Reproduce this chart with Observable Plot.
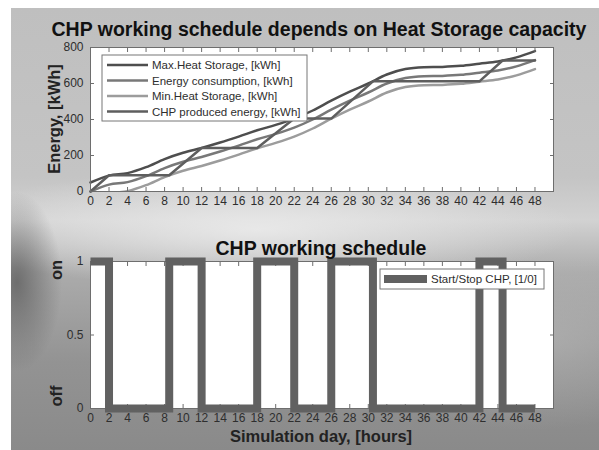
<!DOCTYPE html>
<html>
<head>
<meta charset="utf-8">
<script src="https://cdn.jsdelivr.net/npm/d3@7"></script>
<script src="https://cdn.jsdelivr.net/npm/@observablehq/plot@0.6"></script>
<style>
html, body { margin: 0; padding: 0; background: #ffffff; }
#root { position: relative; width: 599px; height: 450px; overflow: hidden; font-family: "Liberation Sans", Arial, sans-serif; }
#bg { position: absolute; left: 11px; top: 8px; width: 588px; height: 442px;
  background:
    radial-gradient(ellipse 45px 90px at 1% 62%, rgba(90,90,90,0.75), rgba(90,90,90,0) 100%),
    radial-gradient(ellipse 320px 60px at 42% 50%, rgba(235,235,235,0.9), rgba(235,235,235,0) 100%),
    radial-gradient(ellipse 200px 90px at 88% 75%, rgba(185,185,185,0.6), rgba(185,185,185,0) 100%),
    linear-gradient(to bottom, #bfbfbf 0%, #c4c4c4 38%, #d2d2d2 48%, #ababab 60%, #939393 80%, #8a8a8a 100%);
}
.chart { position: absolute; left: 0; }
#overlay { position: absolute; left: 0; top: 0; pointer-events: none; }
</style>
</head>
<body>
<div id="root">
  <div id="bg"></div>
  <div id="top" class="chart" style="top:0px"></div>
  <div id="bottom" class="chart" style="top:230px"></div>
</div>
<script>
// ---- data ----
const hours = [0,2,4,6,8,10,12,14,16,18,20,22,24,26,28,30,32,34,36,38,40,42,44,46,48];
const consumption = [0,38,52,85,130,165,192,222,255,290,320,355,400,455,505,550,600,630,640,642,648,660,672,695,730];
const maxStorage  = [50,88,102,135,180,215,242,272,305,340,370,405,450,505,555,600,650,680,690,692,698,710,722,745,780];
const minStorage  = [-50,-12,2,35,80,115,142,172,205,240,270,305,350,405,455,500,550,580,590,592,598,610,622,645,680];
const chpHours  = [0,2,8.5,12,18,22,26,30.5,42,44.5,48];
const chpEnergy = [0,90,90,242,242,405,405,612,612,728,728];
const chpState  = [1,0,1,0,1,0,1,0,1,0,0];
const xTicks = [0,2,4,6,8,10,12,14,16,18,20,22,24,26,28,30,32,34,36,38,40,42,44,46,48];
const yTicksTop = [0,200,400,600,800];
const yTicksBottom = [0,0.5,1];
const seriesNames = ["Max.Heat Storage, [kWh]", "Energy consumption, [kWh]", "Min.Heat Storage, [kWh]", "CHP produced energy, [kWh]"];
const seriesColors = ["#4e4e4e", "#787878", "#9c9c9c", "#5e5e5e"];
const scheduleName = "Start/Stop CHP, [1/0]";
const scheduleColor = "#616161";

const energyRows = hours.map((h, i) => ({h, max: maxStorage[i], cons: consumption[i], min: minStorage[i]}));
const chpRows = chpHours.map((h, i) => ({h, e: chpEnergy[i], s: chpState[i]}));

const font = "Liberation Sans, Arial, sans-serif";
const axisColor = "#6e6e6e";
const textColor = "#2e2e2e";

function axes(yTicks, yFmt) {
  return [
    Plot.axisX({anchor: "bottom", ticks: xTicks, tickSize: 0, tickPadding: 5, tickFormat: d => String(d), label: null, color: textColor}),
    Plot.axisX({anchor: "bottom", ticks: xTicks, tickSize: -4, tickFormat: () => "", label: null, stroke: axisColor}),
    Plot.axisX({anchor: "top", ticks: xTicks, tickSize: -4, tickFormat: () => "", label: null, stroke: axisColor}),
    Plot.axisY({anchor: "left", ticks: yTicks, tickSize: 0, tickPadding: 7, tickFormat: yFmt, label: null, color: textColor}),
    Plot.axisY({anchor: "left", ticks: yTicks, tickSize: -4, tickFormat: () => "", label: null, stroke: axisColor}),
    Plot.axisY({anchor: "right", ticks: yTicks, tickSize: -4, tickFormat: () => "", label: null, stroke: axisColor})
  ];
}

const topChart = Plot.plot({
  width: 599, height: 230,
  marginLeft: 90, marginRight: 46, marginTop: 47, marginBottom: 39,
  style: {background: "none", fontFamily: font, fontSize: "12px", overflow: "visible"},
  x: {domain: [0, 50], label: null},
  y: {domain: [0, 800], label: null},
  marks: [
    Plot.frame({fill: "white", stroke: null}),
    Plot.line(energyRows, {x: "h", y: "min", stroke: seriesColors[2], strokeWidth: 2.5, curve: "monotone-x", clip: true}),
    Plot.line(energyRows, {x: "h", y: "cons", stroke: seriesColors[1], strokeWidth: 2.5, curve: "monotone-x"}),
    Plot.line(energyRows, {x: "h", y: "max", stroke: seriesColors[0], strokeWidth: 2.5, curve: "monotone-x"}),
    Plot.line(chpRows, {x: "h", y: "e", stroke: seriesColors[3], strokeWidth: 2.5}),
    Plot.frame({stroke: axisColor}),
    ...axes(yTicksTop, d => String(d))
  ]
});
document.getElementById("top").appendChild(topChart);

const bottomChart = Plot.plot({
  width: 599, height: 220,
  marginLeft: 90, marginRight: 46, marginTop: 31, marginBottom: 42,
  style: {background: "none", fontFamily: font, fontSize: "12px", overflow: "visible"},
  x: {domain: [0, 50], label: null},
  y: {domain: [0, 1], label: null},
  marks: [
    Plot.frame({fill: "white", stroke: null}),
    Plot.frame({stroke: axisColor}),
    ...axes(yTicksBottom, d => String(d)),
    Plot.line(chpRows, {x: "h", y: "s", curve: "step-after", stroke: scheduleColor, strokeWidth: 8,
      strokeLinejoin: "miter", strokeMiterlimit: 10, strokeLinecap: "butt"})
  ]
});
document.getElementById("bottom").appendChild(bottomChart);

// ---- overlay: titles, axis labels, legends ----
const svg = d3.select("#root").append("svg").attr("id", "overlay")
  .attr("width", 599).attr("height", 450)
  .style("font-family", font);

function title(x, y, txt, size) {
  svg.append("text").attr("x", x).attr("y", y).attr("text-anchor", "middle")
    .attr("font-weight", "bold").attr("font-size", size).attr("fill", "#111").text(txt);
}
title(319, 35.5, "CHP working schedule depends on Heat Storage capacity", "19.5px");
title(321, 255, "CHP working schedule", "19.5px");
svg.append("text").attr("x", 321).attr("y", 442).attr("text-anchor", "middle")
  .attr("font-weight", "bold").attr("font-size", "16.5px").attr("fill", "#222").text("Simulation day, [hours]");

function vlabel(x, y, txt) {
  svg.append("text").attr("transform", `translate(${x},${y}) rotate(-90)`).attr("text-anchor", "middle")
    .attr("font-weight", "bold").attr("font-size", "16.5px").attr("fill", "#222").text(txt);
}
vlabel(60, 119, "Energy, [kWh]");
vlabel(62, 270, "on");
vlabel(62, 396, "off");

// top legend
const lg = svg.append("g");
lg.append("rect").attr("x", 102).attr("y", 55).attr("width", 205).attr("height", 66)
  .attr("fill", "white").attr("stroke", "#777").attr("stroke-width", 1);
seriesNames.forEach((name, i) => {
  const y = 65 + i * 15.5;
  lg.append("line").attr("x1", 107).attr("x2", 148).attr("y1", y).attr("y2", y)
    .attr("stroke", seriesColors[i]).attr("stroke-width", 2.5);
  lg.append("text").attr("x", 152).attr("y", y).attr("dy", "0.35em")
    .attr("font-size", "11.5px").attr("fill", textColor).text(name);
});

// bottom legend
const lb = svg.append("g");
lb.append("rect").attr("x", 380).attr("y", 269).attr("width", 164).attr("height", 20)
  .attr("fill", "white").attr("stroke", "#777").attr("stroke-width", 1);
lb.append("line").attr("x1", 384).attr("x2", 427).attr("y1", 279).attr("y2", 279)
  .attr("stroke", scheduleColor).attr("stroke-width", 8);
lb.append("text").attr("x", 431).attr("y", 279).attr("dy", "0.35em")
  .attr("font-size", "11.5px").attr("fill", textColor).text(scheduleName);
</script>
</body>
</html>
